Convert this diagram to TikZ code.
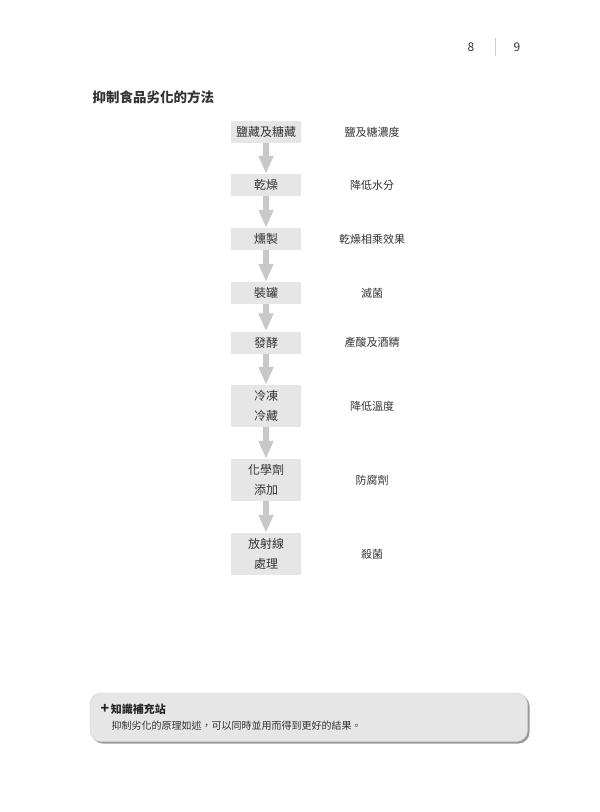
\documentclass[tikz,border=0pt]{standalone}
\usepackage{fontspec}
\setmainfont{Noto Sans CJK TC}
\usetikzlibrary{arrows.meta, positioning}
\definecolor{boxgray}{HTML}{E6E6E6}
\definecolor{arrowgray}{HTML}{C8C8C8}
\definecolor{textgray}{HTML}{333333}
\definecolor{shadowgray}{HTML}{9A9A9A}
\tikzset{
  stepbox/.style = {fill = boxgray, text = textgray, minimum width = 70pt, minimum height = 22pt,
                    inner sep = 0pt, align = center, font = \fontsize{12}{20}\selectfont},
  effect/.style  = {text = textgray, inner sep = 0pt, font = \fontsize{11}{13}\selectfont},
  flow/.style    = {-{Triangle[width = 14pt, length = 18pt]}, line width = 6pt, arrowgray},
}
\begin{document}
\begin{tikzpicture}[x = 1pt, y = -1pt]
  \useasboundingbox [fill = white](0,0)rectangle(600,812);
  % page numbers
  \node [text = textgray, font = \fontsize{12}{14}\selectfont](p8) at (471,47){8};
  \node [text = textgray, font = \fontsize{12}{14}\selectfont](p9) at (517,47){9};
  \draw [gray!40, line width = 0.6pt](495,38)--(495,56);
  % title
  \node [anchor = west, text = textgray, font = \fontsize{13.5}{15}\selectfont\bfseries](title) at (89,97){抑制食品劣化的方法};
  % steps
  \node [stepbox](s1) at (266,132){鹽藏及糖藏};
  \node [stepbox](s2) at (266,185){乾燥};
  \node [stepbox](s3) at (266,239){燻製};
  \node [stepbox](s4) at (266,293){裝罐};
  \node [stepbox](s5) at (266,342.5){發酵};
  \node [stepbox, minimum height = 42pt](s6) at (266,406){冷凍\\冷藏};
  \node [stepbox, minimum height = 42pt](s7) at (266,480){化學劑\\添加};
  \node [stepbox, minimum height = 42pt](s8) at (266,554){放射線\\處理};
  % effects
  \node [effect](e1) at (372,132){鹽及糖濃度};
  \node [effect](e2) at (372,185){降低水分};
  \node [effect](e3) at (372,239){乾燥相乘效果};
  \node [effect](e4) at (372,293){滅菌};
  \node [effect](e5) at (372,342.5){產酸及酒精};
  \node [effect](e6) at (372,406){降低溫度};
  \node [effect](e7) at (372,480){防腐劑};
  \node [effect](e8) at (372,554){殺菌};
  % arrows
  \draw [flow](s1)--(s2);
  \draw [flow](s2)--(s3);
  \draw [flow](s3)--(s4);
  \draw [flow](s4)--(s5);
  \draw [flow](s5)--(s6);
  \draw [flow](s6)--(s7);
  \draw [flow](s7)--(s8);
  % note box
  \fill [shadowgray, rounded corners = 11pt](92,695)rectangle(529.5,743.5);
  \draw [fill = boxgray, draw = gray!35, line width = 0.4pt, rounded corners = 11pt](90,693)rectangle(527.5,741.5);
  \node [anchor = west, text = black!85, font = \fontsize{11}{13}\selectfont\bfseries](note) at (97,709){{\fontsize{14}{14}\selectfont +}\,知識補充站};
  \node [anchor = west, text = textgray, font = \fontsize{10}{12}\selectfont](notetext) at (108,725.5){抑制劣化的原理如述，可以同時並用而得到更好的結果。};
\end{tikzpicture}
\end{document}
